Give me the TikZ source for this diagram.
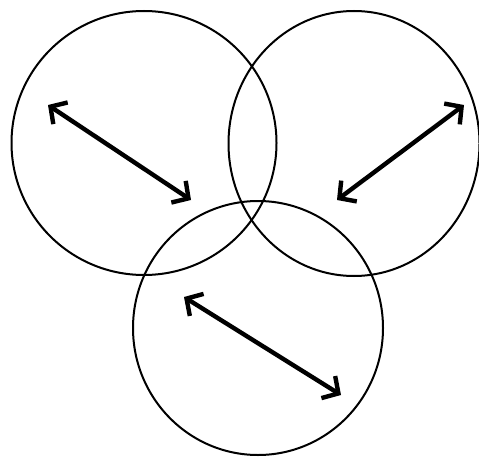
\documentclass[tikz,border=0pt]{standalone}
\usetikzlibrary{arrows.meta,shapes.geometric}
\begin{document}
\begin{tikzpicture}[
 x=1pt,y=-1pt,
 ring/.style={ellipse,draw,line width=2pt,inner sep=0pt},
 twohead/.style={line width=4.4pt,{Straight Barb[length=12pt,width=26pt,line width=4.4pt]}-{Straight Barb[length=12pt,width=26pt,line width=4.4pt]}},
 every node/.style={font=\scriptsize}]
 \clip (0,0) rectangle (479,460);
 \useasboundingbox (0,0) rectangle (479,460);
 % Three overlapping rings.
 \node[ring,minimum width=265pt,minimum height=264pt] (lring) at (144,143){};
 \node[ring,minimum width=251pt,minimum height=265pt] (rring) at (354,143.5){};
 \node[ring,minimum width=250pt,minimum height=254pt] (bring) at (258,328){};
 % Double-headed arrow in each ring.
 \coordinate (la) at (48,105); \coordinate (lb) at (191,200);
 \coordinate (ra) at (464,105); \coordinate (rb) at (337,200);
 \coordinate (ba) at (184,297); \coordinate (bb) at (341,395);
 \draw[twohead] (la)--(lb);
 \draw[twohead] (ra)--(rb);
 \draw[twohead] (ba)--(bb);
\end{tikzpicture}
\end{document}
